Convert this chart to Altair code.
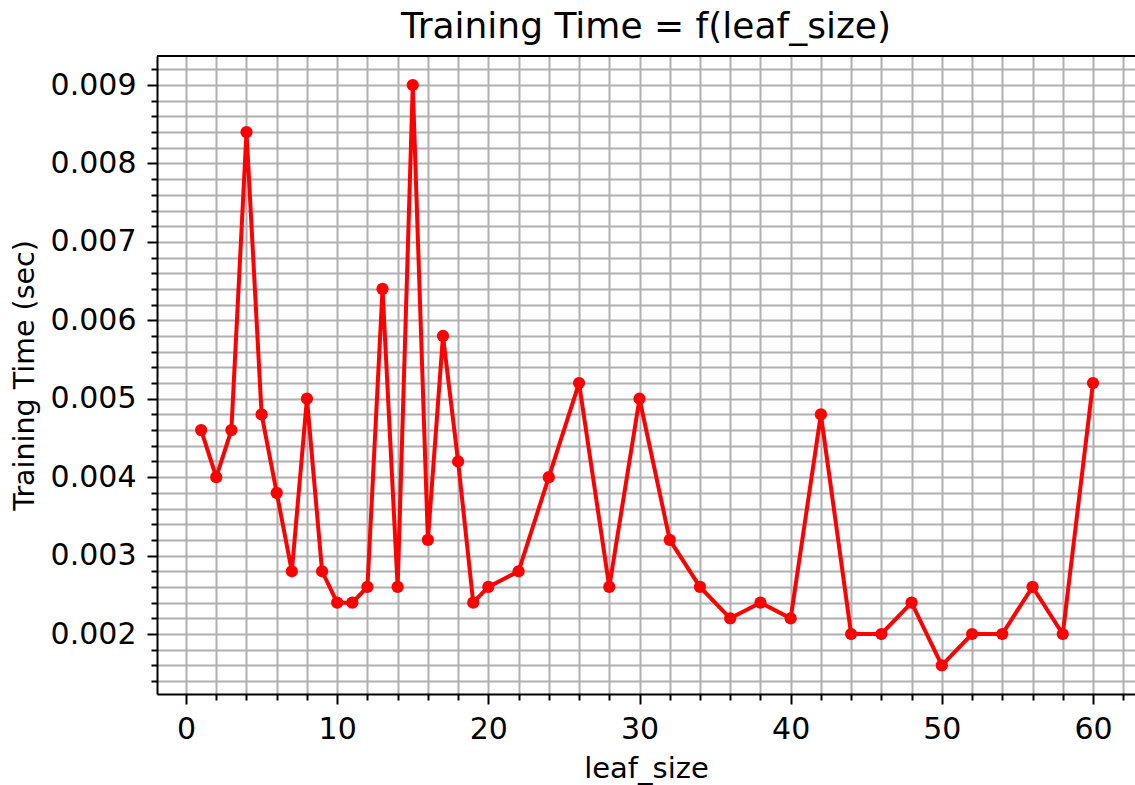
import altair as alt
import pandas as pd

leaf_size = [1, 2, 3, 4, 5, 6, 7, 8, 9, 10, 11, 12, 13, 14, 15, 16, 17, 18, 19, 20,
             22, 24, 26, 28, 30, 32, 34, 36, 38, 40, 42, 44, 46, 48, 50, 52, 54, 56, 58, 60]
train_time = [0.0046, 0.0040, 0.0046, 0.0084, 0.0048, 0.0038, 0.0028, 0.0050, 0.0028, 0.0024,
              0.0024, 0.0026, 0.0064, 0.0026, 0.0090, 0.0032, 0.0058, 0.0042, 0.0024, 0.0026,
              0.0028, 0.0040, 0.0052, 0.0026, 0.0050, 0.0032, 0.0026, 0.0022, 0.0024, 0.0022,
              0.0048, 0.0020, 0.0020, 0.0024, 0.0016, 0.0020, 0.0020, 0.0026, 0.0020, 0.0052]

x_ticks = list(range(0, 63, 2))
y_ticks = [round(0.0014 + 0.0002 * i, 4) for i in range(40)]

df = pd.DataFrame({"leaf_size": leaf_size, "time": train_time})

FONT = "DejaVu Sans"
W, H = 978, 638

x_enc = alt.X(
    "leaf_size:Q",
    scale=alt.Scale(domain=[-1.92, 62.78], nice=False, zero=False),
    axis=alt.Axis(
        title="leaf_size",
        values=x_ticks,
        tickCount=200,
        format="d",
        labelExpr="datum.value % 10 === 0 ? datum.label : ''",
        labelOverlap=False,
        labelFlush=False,
        tickSize={"condition": {"test": "datum.value % 10 === 0", "value": 10}, "value": 6},
        tickWidth=2,
        tickColor="black",
        domainColor="black",
        domainWidth=2,
        grid=True,
        gridColor="#b0b0b0",
        gridWidth=2,
        gridOpacity=1,
        labelFont=FONT,
        labelFontSize=30,
        labelColor="black",
        labelPadding=10,
        titleFont=FONT,
        titleFontSize=29,
        titleFontWeight="normal",
        titleColor="black",
        titleBaseline="alphabetic",
        titleY=83,
    ),
)

y_enc = alt.Y(
    "time:Q",
    scale=alt.Scale(domain=[0.001235, 0.00937], nice=False, zero=False),
    axis=alt.Axis(
        title="Training Time (sec)",
        values=y_ticks,
        tickCount=200,
        format=".3f",
        labelExpr="round(datum.value * 10000) % 10 === 0 ? datum.label : ''",
        labelOverlap=False,
        labelFlush=False,
        tickSize={"condition": {"test": "round(datum.value * 10000) % 10 === 0", "value": 10}, "value": 6},
        tickWidth=2,
        tickColor="black",
        domainColor="black",
        domainWidth=2,
        grid=True,
        gridColor="#b0b0b0",
        gridWidth=2,
        gridOpacity=1,
        labelFont=FONT,
        labelFontSize=30,
        labelColor="black",
        labelPadding=11,
        titleFont=FONT,
        titleFontSize=28.5,
        titleFontWeight="normal",
        titleColor="black",
        titleBaseline="alphabetic",
        titleX=-124,
    ),
)

line = alt.Chart(df).mark_line(color="#ff0000", strokeWidth=4).encode(x=x_enc, y=y_enc)
pts = alt.Chart(df).mark_circle(color="#ff0000", size=150, opacity=1).encode(x="leaf_size:Q", y="time:Q")
top = alt.Chart(df).mark_rule(color="black", strokeWidth=2).encode(
    x=alt.value(0), x2=alt.value(W), y=alt.value(0)
)

chart = (
    alt.layer(line, pts, top)
    .properties(
        width=W,
        height=H,
        title=alt.TitleParams(
            "Training Time = f(leaf_size)",
            font=FONT,
            fontSize=36,
            fontWeight="normal",
            color="black",
            anchor="middle",
            offset=8,
        ),
        autosize=alt.AutoSizeParams(type="none"),
        padding={"left": 157, "top": 56, "right": 0, "bottom": 91},
    )
    .configure_view(stroke=None)
    .configure(background="white")
)

chart.save("out.html", embed_options={"renderer": "svg", "actions": False})
